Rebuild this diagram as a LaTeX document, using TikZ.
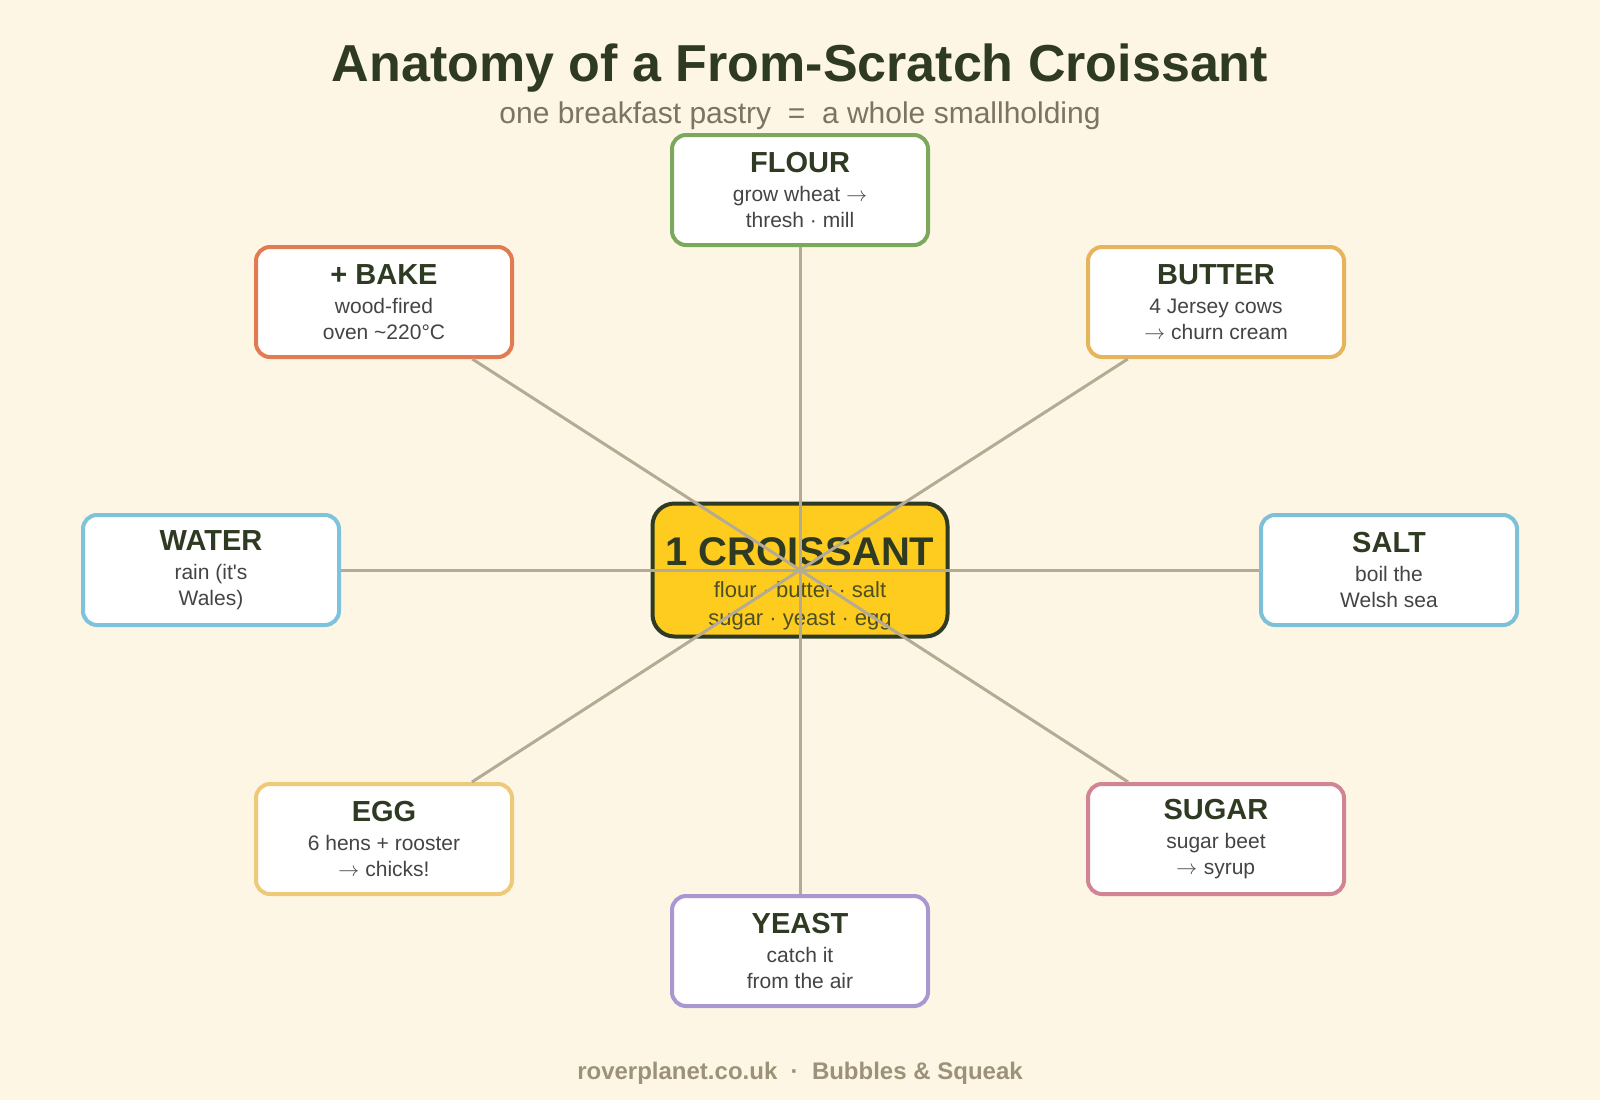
\documentclass[tikz,border=0pt]{standalone}
\usepackage{fontspec}
\setmainfont{Liberation Sans}
\newfontfamily\lmm{Latin Modern Math}
\definecolor{bgc}{HTML}{FEF6E4}
\definecolor{linec}{HTML}{B5AB94}
\definecolor{titlec}{HTML}{2E3A22}
\definecolor{subc}{HTML}{7A7460}
\definecolor{bodyc}{HTML}{444444}
\definecolor{footc}{HTML}{9C927A}
\definecolor{cfill}{HTML}{FECB1F}
\definecolor{cdraw}{HTML}{2E3A22}
\definecolor{cflour}{HTML}{7BA85C}
\definecolor{cbake}{HTML}{E07B52}
\definecolor{cbutter}{HTML}{E6B45C}
\definecolor{cwater}{HTML}{7EC3DE}
\definecolor{csalt}{HTML}{7EC0D8}
\definecolor{cegg}{HTML}{EEC97A}
\definecolor{csugar}{HTML}{D08494}
\definecolor{cyeast}{HTML}{A997D2}
\tikzset{
  ingbox/.style={draw=#1, line width=4pt, fill=white, rounded corners=14pt,
    minimum width=256pt, minimum height=110pt, inner sep=0pt,
    align=center, text=bodyc, font=\fontsize{21}{26}\selectfont},
  cbox/.style={draw=cdraw, line width=4pt, fill=cfill, rounded corners=22pt,
    minimum width=295pt, minimum height=133pt, inner sep=0pt},
  ctext/.style={align=center, text=cdraw!85!cfill, font=\fontsize{22}{28}\selectfont, inner sep=0pt},
  spoke/.style={draw=linec, line width=3pt},
}
\newcommand{\hd}[1]{{\fontsize{29}{34}\selectfont\bfseries\color{titlec}#1}\\[3pt]}
\newcommand{\ar}{{\lmm →}}
\begin{document}
\begin{tikzpicture}[x=1pt,y=-1pt]
\fill[bgc] (0,0) rectangle (1600,1100);
\useasboundingbox (0,0) rectangle (1600,1100);
\node[text=titlec, font=\fontsize{52}{60}\selectfont\bfseries] (title) at (800,68) {Anatomy of a From-Scratch Croissant};
\node[text=subc, font=\fontsize{30}{36}\selectfont] (sub) at (800,116) {one breakfast pastry \ = \ a whole smallholding};
\node[text=footc, font=\fontsize{24}{28}\selectfont\bfseries] (foot) at (800,1073) {roverplanet.co.uk \ · \ Bubbles \& Squeak};
% centre
\node[cbox] (c) at (800,570) {};
\node[ctext] (ct) at (800,584) {{\fontsize{40}{44}\selectfont\bfseries\color{cdraw}1 CROISSANT}\\[4pt]flour · butter · salt\\sugar · yeast · egg};
% outer boxes
\node[ingbox=cflour] (flour) at (800,190) {\hd{FLOUR}grow wheat \ar\\thresh · mill};
\node[ingbox=cbake] (bake) at (384,302) {\hd{+ BAKE}wood-fired\\oven \textasciitilde220°C};
\node[ingbox=cbutter] (butter) at (1216,302) {\hd{BUTTER}4 Jersey cows\\\ar\ churn cream};
\node[ingbox=cwater] (water) at (211,570) {\hd{WATER}rain (it\textquotesingle s\\Wales)};
\node[ingbox=csalt] (salt) at (1389,570) {\hd{SALT}boil the\\Welsh sea};
\node[ingbox=cegg] (egg) at (384,839) {\hd{EGG}6 hens + rooster\\\ar\ chicks!};
\node[ingbox=csugar] (sugar) at (1216,839) {\hd{SUGAR}sugar beet\\\ar\ syrup};
\node[ingbox=cyeast] (yeast) at (800,951) {\hd{YEAST}catch it\\from the air};
% spokes
\foreach \n in {flour,bake,butter,water,salt,egg,sugar,yeast}
  \draw[spoke] (c.center) -- (\n);
\end{tikzpicture}
\end{document}
